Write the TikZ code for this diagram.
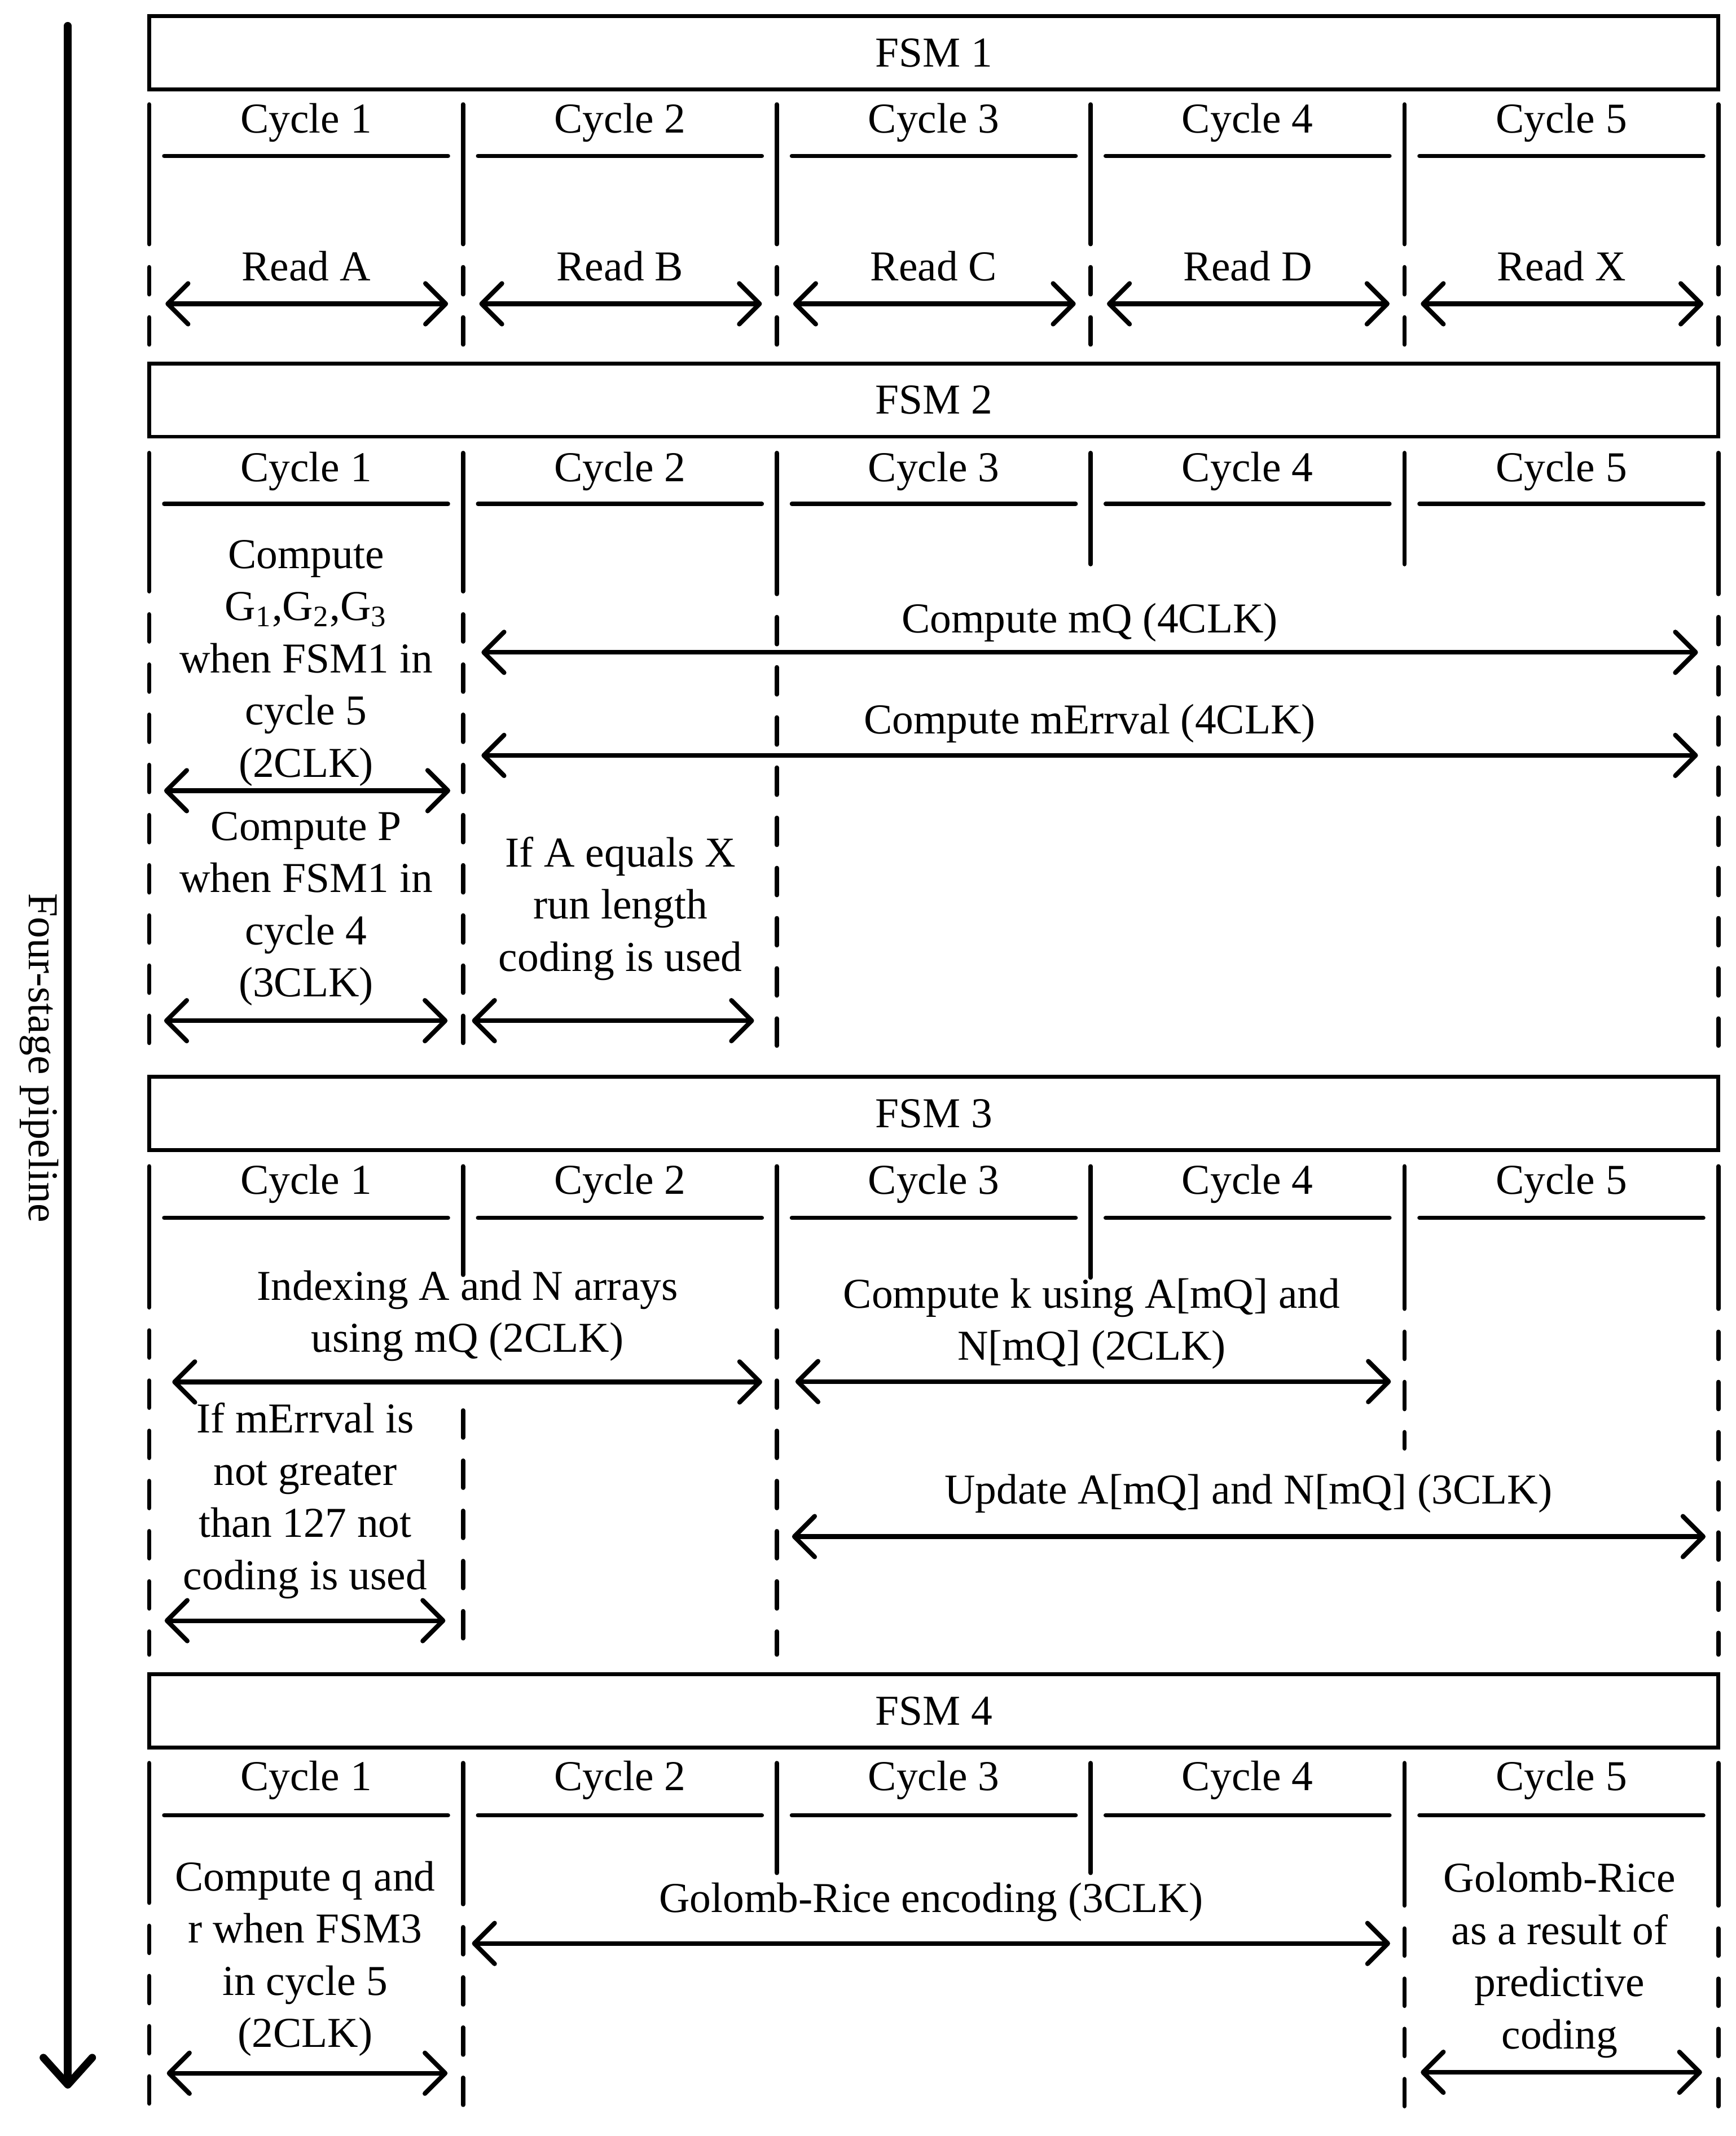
\documentclass[tikz,border=0pt]{standalone}
\usepackage{fontspec}
\setmainfont{Liberation Serif}
\usetikzlibrary{arrows.meta}
\tikzset{
  every node/.style={font=\fontsize{15.7}{19.25}\selectfont, inner sep=0pt},
  fsmbox/.style={draw, line width=1.4pt, minimum width=578.5pt, minimum height=27pt},
  solidsep/.style={line width=1.6pt, line cap=round},
  dashsep/.style={line width=1.6pt, line cap=round, dash pattern=on 10pt off 8.5pt, dash phase=10pt},
  dashsepB/.style={line width=1.6pt, line cap=round, dash pattern=on 10pt off 8.5pt},
  uline/.style={line width=1.5pt, line cap=round},
  dbl/.style={line width=1.7pt, {Straight Barb[length=7.5pt,width=15pt,round]}-{Straight Barb[length=7.5pt,width=15pt,round]}},
  lbl/.style={anchor=base, align=center},
  mainarrow/.style={line width=2.8pt, line cap=round, -{Straight Barb[length=10pt,width=18pt,round]}}
}
\newcommand{\sepsd}[4]{\draw[solidsep] (#1,#2) -- (#1,#3); \draw[dashsep] (#1,#3) -- (#1,#4);}
\newcommand{\seps}[3]{\draw[solidsep] (#1,#2) -- (#1,#3);}
\newcommand{\darr}[4]{\coordinate (#1l) at (#2,#4); \coordinate (#1r) at (#3,#4); \draw[dbl] (#1l) -- (#1r);}
\begin{document}
\begin{tikzpicture}[x=0.5pt, y=-0.5pt]
\useasboundingbox (0,0) rectangle (1280,1575);

% pipeline arrow
\coordinate (ptop) at (50,19);
\coordinate (pbot) at (50,1540);
\draw[mainarrow] (ptop) -- (pbot);
\node[rotate=-90] (pipe) at (29,780) {Four-stage pipeline};

% FSM boxes
\node[fsmbox] (fsm1) at (688.5,39) {FSM 1};
\node[fsmbox] (fsm2) at (688.5,295) {FSM 2};
\node[fsmbox] (fsm3) at (688.5,821) {FSM 3};
\node[fsmbox] (fsm4) at (688.5,1261.5) {FSM 4};

% cycle labels and underlines
\foreach \s/\yb/\yu in {1/98/115, 2/355/371.5, 3/880.5/898, 4/1320/1338.5}{
  \foreach \i in {1,...,5}{
    \node[lbl] (cyc\s\i) at ({110+231.4*(\i-0.5)},\yb) {Cycle \i};
    \draw[uline] ({110+231.4*(\i-1)+11},\yu) -- ({110+231.4*\i-11},\yu);
  }
}

% ---- Section 1 separators
\foreach \x in {110,341.4,572.8,804.2,1035.6,1267}{ \sepsd{\x}{77}{180}{258} }
% Section 1 content
\node[lbl] (ra) at (225.7,207) {Read A};
\node[lbl] (rb) at (457.1,207) {Read B};
\node[lbl] (rc) at (688.5,207) {Read C};
\node[lbl] (rd) at (919.9,207) {Read D};
\node[lbl] (rx) at (1151.3,207) {Read X};
\darr{ar1}{122}{330.4}{224}
\darr{ar2}{353.4}{561.8}{224}
\darr{ar3}{584.8}{793.2}{224}
\darr{ar4}{816.2}{1024.6}{224}
\darr{ar5}{1047.6}{1256}{224}

% ---- Section 2 separators
\sepsd{110}{334}{436}{778}
\sepsd{341.4}{334}{436}{778}
\sepsd{572.8}{334}{438}{778}
\seps{804.2}{334}{416}
\seps{1035.6}{334}{416}
\sepsd{1267}{334}{438}{778}
% Section 2 content (base anchor = last line baseline)
\node[lbl] (g) at (225.7,573) {Compute\\G\textsubscript{1},G\textsubscript{2},G\textsubscript{3}\\when FSM1 in\\cycle 5\\(2CLK)};
\darr{bg}{121}{332}{583}
\node[lbl] (p) at (225.7,735) {Compute P\\when FSM1 in\\cycle 4\\(3CLK)};
\darr{bp}{121}{330}{752.6}
\node[lbl] (run) at (457.5,716) {If A equals X\\run length\\coding is used};
\darr{brun}{348}{556}{752.6}
\node[lbl] (mq) at (803.5,466.7) {Compute mQ (4CLK)};
\darr{bmq}{355}{1252}{481}
\node[lbl] (me) at (803.5,541) {Compute mErrval (4CLK)};
\darr{bme}{355}{1252}{557}

% ---- Section 3 separators
\sepsd{110}{860}{964}{1220}
\seps{341.4}{860}{940}
\draw[dashsepB] (341.4,1040) -- (341.4,1218);
\sepsd{572.8}{860}{964}{1220}
\seps{804.2}{860}{942}
\sepsd{1035.6}{860}{965}{1068}
\sepsd{1267}{860}{965}{1220}
% Section 3 content
\node[lbl] (idx) at (344.7,997) {Indexing A and N arrays\\using mQ (2CLK)};
\darr{bidx}{127}{562}{1019}
\node[lbl] (kk) at (805,1002.8) {Compute k using A[mQ] and\\N[mQ] (2CLK)};
\darr{bkk}{586.5}{1025.6}{1018.7}
\node[lbl] (upd) at (920.5,1109) {Update A[mQ] and N[mQ] (3CLK)};
\darr{bupd}{584}{1257.6}{1133}
\node[lbl] (merr) at (225,1172) {If mErrval is\\not greater\\than 127 not\\coding is used};
\darr{bmerr}{121.4}{328.4}{1195}

% ---- Section 4 separators
\sepsd{110}{1300}{1403}{1557}
\sepsd{341.4}{1300}{1404}{1557}
\seps{572.8}{1300}{1381}
\seps{804.2}{1300}{1381}
\sepsd{1035.6}{1300}{1405}{1557}
\sepsd{1267}{1300}{1405}{1557}
% Section 4 content
\node[lbl] (qr) at (225,1509.6) {Compute q and\\r when FSM3\\in cycle 5\\(2CLK)};
\darr{bqr}{123}{330}{1528.7}
\node[lbl] (gre) at (686.5,1410) {Golomb-Rice encoding (3CLK)};
\darr{bgre}{348}{1025}{1433}
\node[lbl] (grp) at (1150,1510.7) {Golomb-Rice\\as a result of\\predictive\\coding};
\darr{bgrp}{1047.6}{1255}{1528}
\end{tikzpicture}
\end{document}
